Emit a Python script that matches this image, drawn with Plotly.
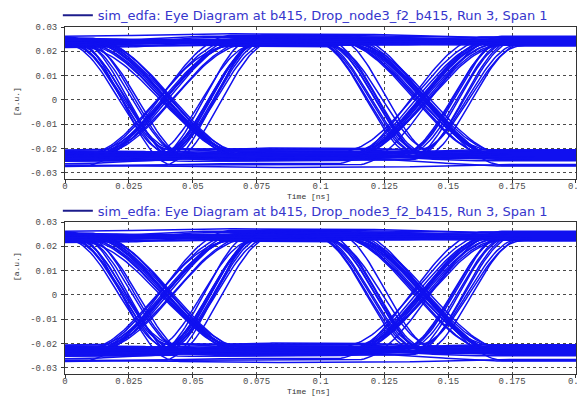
import numpy as np
import plotly.graph_objects as go

# ---------------- data ----------------
X_TICKS = [0, 0.025, 0.05, 0.075, 0.1, 0.125, 0.15, 0.175, 0.2]
X_TICK_TEXT = ["0", "0.025", "0.05", "0.075", "0.1", "0.125", "0.15", "0.175", "0.2"]
Y_TICKS = [0.03, 0.02, 0.01, 0, -0.01, -0.02, -0.03]
Y_TICK_TEXT = ["0.03", "0.02", "0.01", "0", "-0.01", "-0.02", "-0.03"]

LEGEND_TEXT = "sim_edfa: Eye Diagram at b415, Drop_node3_f2_b415, Run 3, Span 1"
X_TITLE = "Time [ns]"
Y_TITLE = "[a.u.]"

# one entry per overlaid bit sequence (three bit slots inside the 0..0.2 ns window)
patterns = ["111"] * 9 + ["110"] * 9 + ["101"] * 9 + ["100"] * 9 + \
           ["011"] * 9 + ["010"] * 9 + ["001"] * 9 + ["000"] * 9 + \
           ["110", "100", "011", "001", "101", "010", "110", "100",
            "011", "001", "101", "010", "110", "011", "100", "001"]
families = ["A", "B", "A", "B", "A", "B", "A", "B", "A",
            "B", "A", "B", "A", "B", "A", "B", "A", "B",
            "A", "B", "A", "B", "A", "B", "A", "B", "A",
            "B", "A", "B", "A", "B", "A", "B", "A", "B",
            "A", "B", "A", "B", "A", "B", "A", "B", "A",
            "B", "A", "B", "A", "B", "A", "B", "A", "B",
            "A", "B", "A", "B", "A", "B", "A", "B", "A",
            "B", "A", "B", "A", "B", "A", "B", "A", "B",
            "A", "A", "A", "A", "B", "B", "B", "B",
            "A", "B", "A", "B", "A", "B", "B", "A"]
level_bit0 = [0.0245, 0.0228, 0.0238, 0.0220, 0.0252, 0.0233, 0.0241, 0.0216, 0.0262,
              0.0240, 0.0226, 0.0249, 0.0218, 0.0235, 0.0243, 0.0229, 0.0254, 0.0221,
              0.0247, 0.0230, 0.0222, 0.0241, 0.0236, 0.0250, 0.0227, 0.0244, 0.0258,
              0.0243, 0.0227, 0.0251, 0.0234, 0.0219, 0.0246, 0.0238, 0.0224, 0.0255,
              -0.0228, -0.0215, -0.0240, -0.0224, -0.0206, -0.0248, -0.0233, -0.0219, -0.0270,
              -0.0233, -0.0220, -0.0245, -0.0212, -0.0238, -0.0226, -0.0251, -0.0229, -0.0270,
              -0.0231, -0.0218, -0.0243, -0.0209, -0.0236, -0.0252, -0.0226, -0.0240, -0.0274,
              -0.0229, -0.0214, -0.0246, -0.0225, -0.0239, -0.0262, -0.0220, -0.0235, -0.0270,
              0.0232, 0.0238, -0.0226, -0.0221, 0.0236, -0.0237, 0.0244, 0.0229,
              -0.0239, -0.0228, 0.0233, -0.0218, 0.0251, -0.0231, 0.0237, -0.0242]
level_bit1 = [0.0250, 0.0236, 0.0262, 0.0228, 0.0242, 0.0255, 0.0231, 0.0246, 0.0272,
              0.0248, 0.0239, 0.0230, 0.0258, 0.0244, 0.0226, 0.0252, 0.0237, 0.0233,
              -0.0228, -0.0215, -0.0238, -0.0222, -0.0205, -0.0245, -0.0232, -0.0219, -0.0268,
              -0.0232, -0.0219, -0.0241, -0.0226, -0.0210, -0.0252, -0.0236, -0.0201, -0.0244,
              0.0246, 0.0233, 0.0255, 0.0224, 0.0240, 0.0251, 0.0229, 0.0260, 0.0266,
              0.0243, 0.0230, 0.0259, 0.0236, 0.0227, 0.0249, 0.0238, 0.0221, 0.0268,
              -0.0225, -0.0238, -0.0212, -0.0247, -0.0230, -0.0218, -0.0243, -0.0203, -0.0262,
              -0.0235, -0.0222, -0.0209, -0.0250, -0.0228, -0.0240, -0.0198, -0.0244, -0.0278,
              0.0241, -0.0224, 0.0237, -0.0234, -0.0229, 0.0241, 0.0235, -0.0237,
              0.0229, -0.0221, -0.0233, 0.0245, 0.0229, 0.0242, -0.0228, -0.0227]
level_bit2 = [0.0240, 0.0232, 0.0248, 0.0225, 0.0236, 0.0244, 0.0229, 0.0252, 0.0258,
              -0.0230, -0.0218, -0.0240, -0.0225, -0.0208, -0.0236, -0.0245, -0.0213, -0.0228,
              0.0241, 0.0229, 0.0250, 0.0236, 0.0226, 0.0246, 0.0233, 0.0255, 0.0262,
              -0.0226, -0.0238, -0.0214, -0.0250, -0.0231, -0.0220, -0.0242, -0.0228, -0.0272,
              0.0238, 0.0247, 0.0230, 0.0242, 0.0251, 0.0226, 0.0235, 0.0244, 0.0257,
              -0.0229, -0.0241, -0.0216, -0.0233, -0.0247, -0.0222, -0.0236, -0.0210, -0.0270,
              0.0244, 0.0231, 0.0249, 0.0237, 0.0226, 0.0253, 0.0240, 0.0222, 0.0259,
              -0.0224, -0.0239, -0.0230, -0.0217, -0.0248, -0.0232, -0.0241, -0.0205, -0.0265,
              -0.0222, -0.0233, 0.0244, 0.0239, 0.0243, -0.0227, -0.0233, -0.0221,
              0.0236, 0.0246, 0.0238, -0.0238, -0.0226, 0.0233, -0.0235, 0.0232]
# timing jitter (ns) of the first and second edge of each sequence
edge_shift1 = [0.000, 0.0035, -0.004, 0.002, -0.002, 0.004, 0.0007, -0.0025, 0.0013,
               -0.0035, 0.0013, 0.004, -0.0007, 0.000, 0.0025, -0.004, 0.0007, 0.002,
               0.002, -0.0013, 0.004, 0.000, -0.0035, 0.0025, -0.0007, 0.0013, -0.0025,
               0.0007, -0.004, 0.0025, 0.0013, -0.002, 0.000, 0.0035, -0.0025, 0.0007,
               -0.002, 0.0025, 0.0007, -0.0035, 0.004, 0.000, -0.0013, 0.002, -0.0025,
               0.000, 0.0035, -0.0025, 0.0007, -0.0013, 0.002, 0.004, -0.0035, 0.0013,
               0.0025, -0.0007, 0.000, 0.002, -0.004, 0.0035, -0.0013, 0.0007, -0.002,
               -0.0007, 0.002, -0.0035, 0.0025, 0.000, -0.0025, 0.004, -0.0013, 0.0013,
               0.001, -0.0015, 0.0005, 0.002, -0.001, 0.0015, -0.002, 0.0005,
               -0.001, 0.0025, -0.0025, 0.000, 0.0015, -0.0005, 0.001, -0.002]
edge_shift2 = [0.002, -0.0025, 0.0007, 0.004, -0.0013, 0.000, -0.0035, 0.0025, 0.0013,
               0.0007, -0.004, 0.002, 0.0035, -0.002, 0.000, 0.0013, -0.0025, 0.004,
               -0.0013, 0.0025, 0.000, -0.0035, 0.004, 0.0007, 0.002, -0.002, 0.0035,
               0.0025, 0.000, -0.0025, 0.004, 0.0013, -0.004, -0.0007, 0.002, -0.0013,
               0.0013, -0.002, 0.0035, 0.000, -0.0007, 0.0025, 0.004, -0.0035, 0.0007,
               -0.0025, 0.0007, 0.0013, -0.004, 0.0035, 0.000, -0.0013, 0.002, 0.0025,
               0.000, 0.004, -0.002, -0.0013, 0.0025, -0.0025, 0.0007, 0.0035, -0.004,
               0.0035, -0.0007, 0.0013, -0.002, 0.004, 0.002, -0.0035, 0.000, -0.0013,
               -0.001, 0.002, -0.002, 0.0005, 0.0015, -0.0005, 0.001, -0.0015,
               0.0025, -0.001, 0.000, 0.002, -0.0025, 0.0005, -0.002, 0.0015]

# edge timing (ns) read from the two crossing regions
FALL_CENTER = {"A": (0.025, 0.122), "B": (0.039, 0.139)}
RISE_CENTER = {"A": (0.039, 0.139), "B": (0.057, 0.155)}
FALL_WIDTH = {"A": 0.040, "B": 0.062}
RISE_WIDTH = {"A": 0.058, "B": 0.040}
HOLD_WIDTH = 0.060

# ---------------- build waveforms ----------------
t = np.linspace(0.0, 0.2, 201)


def edge(tt, c, w):
    u = np.clip((tt - c) / w, -0.5, 0.5)
    return 0.5 + 0.5 * np.sin(np.pi * u)


def boundary(prev_bit, next_bit, fam, k):
    if prev_bit == "1" and next_bit == "0":
        return FALL_CENTER[fam][k], FALL_WIDTH[fam]
    if prev_bit == "0" and next_bit == "1":
        return RISE_CENTER[fam][k], RISE_WIDTH[fam]
    return 0.5 * (FALL_CENTER[fam][k] + RISE_CENTER[fam][k]), HOLD_WIDTH


xs, ys = [], []
for pat, fam, l0, l1, l2, s1, s2 in zip(patterns, families, level_bit0, level_bit1,
                                         level_bit2, edge_shift1, edge_shift2):
    c1, w1 = boundary(pat[0], pat[1], fam, 0)
    c2, w2 = boundary(pat[1], pat[2], fam, 1)
    y = l0 + (l1 - l0) * edge(t, c1 + s1, w1) + (l2 - l1) * edge(t, c2 + s2, w2)
    xs.extend(t.tolist() + [None])
    ys.extend(y.tolist() + [None])

TRACE_COLOR = "#1010f0"
LEGEND_LINE_COLOR = "#1c1c8c"
GRID_COLOR = "#4a4a4a"
TICK_FONT = dict(family="Liberation Mono", size=9, color="#4a4a4a")

fig = go.Figure()
for xa, ya, lg in [("x", "y", "legend"), ("x2", "y2", "legend2")]:
    fig.add_trace(go.Scatter(x=xs, y=ys, mode="lines", xaxis=xa, yaxis=ya,
                             line=dict(color=TRACE_COLOR, width=1.5),
                             showlegend=False, hoverinfo="skip"))
    fig.add_trace(go.Scatter(x=[None], y=[None], mode="lines", xaxis=xa, yaxis=ya,
                             line=dict(color=LEGEND_LINE_COLOR, width=2),
                             name=LEGEND_TEXT, showlegend=True, legend=lg))

axis_common = dict(showline=True, linecolor="#333333", linewidth=1, mirror=True,
                   showgrid=True, gridcolor=GRID_COLOR, gridwidth=1, griddash="3px,3px",
                   zeroline=False, ticks="outside", ticklen=3, tickcolor="#333333",
                   tickfont=TICK_FONT)

# the page body adds an 8 px offset, so the figure is 8 px smaller than the window
H_TOP = (0.562, 1.0)
H_BOT = (0.0, 0.438)
X_RANGE = [0, 0.20001]
Y_RANGE = [-0.0325, 0.03]
legend_font = dict(family="DejaVu Sans", size=13, color="#3535cc")
fig.update_layout(
    width=577, height=395,
    margin=dict(l=57, r=9, t=19, b=29, autoexpand=False),
    paper_bgcolor="white", plot_bgcolor="white",
    xaxis=dict(domain=[0, 1], range=X_RANGE, anchor="y", tickvals=X_TICKS,
               ticktext=X_TICK_TEXT, ticklabelstandoff=-5, **axis_common),
    yaxis=dict(domain=list(H_TOP), range=Y_RANGE, anchor="x", tickvals=Y_TICKS,
               ticktext=Y_TICK_TEXT, ticklabelstandoff=2, **axis_common),
    xaxis2=dict(domain=[0, 1], range=X_RANGE, anchor="y2", tickvals=X_TICKS,
                ticktext=X_TICK_TEXT, ticklabelstandoff=-5, **axis_common),
    yaxis2=dict(domain=list(H_BOT), range=Y_RANGE, anchor="x2", tickvals=Y_TICKS,
                ticktext=Y_TICK_TEXT, ticklabelstandoff=2, **axis_common),
    legend=dict(x=-0.014, y=1.034, xanchor="left", yanchor="middle",
                bgcolor="rgba(0,0,0,0)", font=legend_font, itemwidth=30),
    legend2=dict(x=-0.014, y=0.470, xanchor="left", yanchor="middle",
                 bgcolor="rgba(0,0,0,0)", font=legend_font, itemwidth=30),
    showlegend=True,
)

title_font = dict(family="Liberation Mono", size=8, color="#333333")
for yp in (0.512, -0.068):
    fig.add_annotation(text=X_TITLE, xref="paper", yref="paper", x=0.477, y=yp,
                       showarrow=False, font=title_font)
for yp in (0.833, 0.262):
    fig.add_annotation(text=Y_TITLE, xref="paper", yref="paper", x=-0.1076, y=yp,
                       textangle=-90, showarrow=False, font=title_font)

fig.write_html("out.html")
